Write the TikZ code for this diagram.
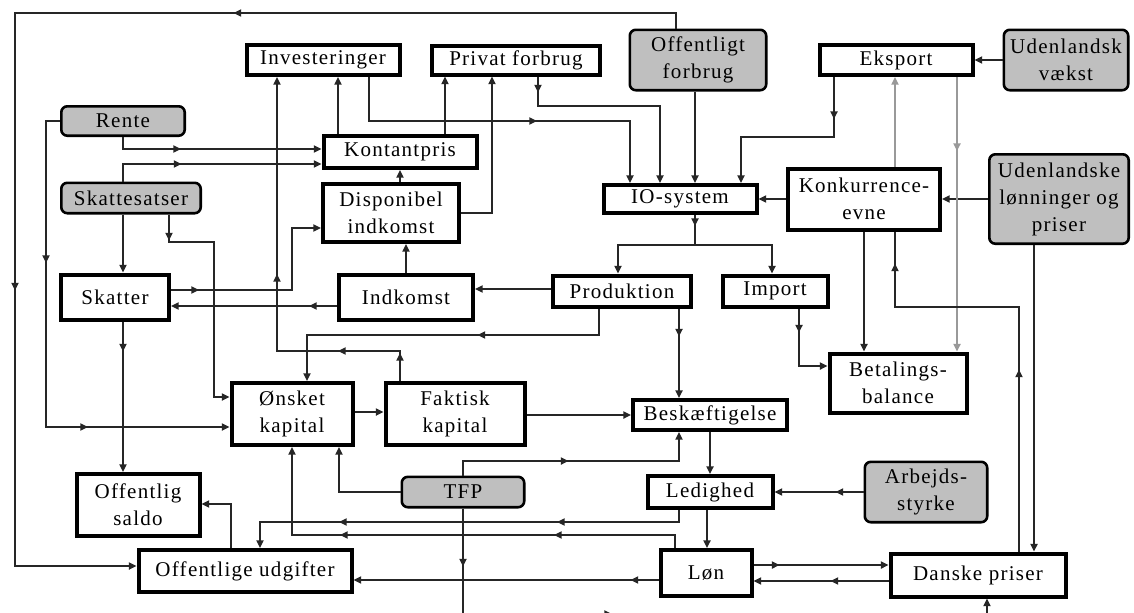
\documentclass[tikz,border=0pt]{standalone}
\usepackage{fontspec}
\setmainfont{Liberation Serif}[LetterSpace=6]
\usetikzlibrary{arrows.meta,          % 箭头
  decorations.markings,               % 线中间的箭头
  positioning}                        % 相对地放置节点

\begin{document}
\begin{tikzpicture}[x=0.5pt,y=-0.5pt,>={Triangle[length=3.8pt,width=3.6pt]},
  % 全局: 一个单位 = 原图一个像素, y 轴向下
  % 方框: 内生变量 (白底粗框) 和外生变量 (灰底圆角)
  box/.style={draw,line width=2pt,fill=white,inner sep=0pt,align=center,
    font=\fontsize{10.5}{13.5}\selectfont},
  exo/.style={box,line width=1.3pt,fill=black!25,rounded corners=3pt},
  wh/.style 2 args={minimum width=#1pt,minimum height=#2pt},
  % 连线
  link/.style={draw=black!85,line width=0.65pt,->},
  faint/.style={link,draw=black!40},
  mid/.style={postaction={decorate,decoration={markings,
      mark=at position #1 with {\arrow{>}}}}}]

  \path [use as bounding box,fill=white] (0,0) rectangle (1134,612);

  % 第一行
  \node [box,wh={76.5}{15}] (inv) at (323,60) {Investeringer};
  \node [box,wh={84}{14.5}] (priv) at (516,60) {Privat forbrug};
  \node [exo,wh={68.2}{30.2}] (offf) at (698,60) {Offentligt\\forbrug};
  \node [box,wh={76.5}{15}] (eks) at (896,60) {Eksport};
  \node [exo,wh={62.2}{30.2}] (vaekst) at (1066,60) {Udenlandsk\\vækst};

  \node [exo,wh={61.7}{14.7}] (rente) at (123,121) {Rente};
  \node [box,wh={76.5}{16}] (kont) at (400,152) {Kontantpris};
  \node [exo,wh={69.7}{15.2}] (satser) at (131,198) {Skattesatser};
  \node [box,wh={68}{29}] (disp) at (391,213) {Disponibel\\indkomst};
  \node [box,wh={76.5}{14}] (io) at (680,199) {IO-system};
  \node [box,wh={76}{30.5}] (konk) at (864,199) {Konkurrence-\\evne};
  \node [exo,wh={69.7}{44.7}] (udl) at (1059,199) {Udenlandske\\lønninger og\\priser};

  \node [box,wh={54}{22.5}] (skat) at (115,297) {Skatter};
  \node [box,wh={67}{22.5}] (indk) at (406,297) {Indkomst};
  \node [box,wh={69}{15.5}] (prod) at (622,291) {Produktion};
  \node [box,wh={52.5}{15.5}] (imp) at (775,291) {Import};
  \node [box,wh={68.5}{29.5}] (bet) at (898,383) {Betalings-\\balance};

  \node [box,wh={60.5}{31}] (onsk) at (292,414) {Ønsket\\kapital};
  \node [box,wh={69.5}{31}] (fakt) at (455,414) {Faktisk\\kapital};
  \node [box,wh={77}{15}] (besk) at (710,415) {Beskæftigelse};
  \node [exo,wh={61.2}{15.2}] (tfp) at (463,492) {TFP};
  \node [box,wh={62.5}{16}] (led) at (710,492) {Ledighed};
  \node [exo,wh={61.2}{30.2}] (arb) at (926,492) {Arbejds-\\styrke};
  \node [box,wh={61.5}{31}] (saldo) at (138,505) {Offentlig\\saldo};
  \node [box,wh={106.5}{21}] (udg) at (245,571) {Offentlige udgifter};
  \node [box,wh={45.5}{23}] (lon) at (706,573) {Løn};
  \node [box,wh={87.5}{21.5}] (dk) at (978,575) {Danske priser};

  % 图外的端点
  \coordinate (iofork) at (695,245);
  \coordinate (tfpout) at (463,625);
  \coordinate (dkin) at (987,625);
  \coordinate (botin) at (580,614);
  \coordinate (botout) at (612,614);

  % 左边的大回路
  \draw [link,mid=229pt,mid=477pt] (offf.north -| 676,0) -- (676,13) -- (15,13)
    -- (15,566) -- (udg.west |- 0,566);
  \draw [link,mid=78pt,mid=181pt] (rente.west) -- (46,121) -- (46,427)
    -- (onsk.west |- 0,427);
  \draw [link,mid=35pt] (rente.south) -- (123,149) -- (kont.west |- 0,149);
  \draw [link,mid=38pt] (satser.north -| 123,0) -- (123,164) -- (kont.west |- 0,164);
  \draw [link] (satser.south -| 123,0) -- (skat.north -| 123,0);
  \draw [link,mid=13pt] (satser.south -| 169,0) -- (169,242) -- (214,242)
    -- (214,397) -- (onsk.west |- 0,397);
  \draw [link,mid=14pt] (skat.east |- 0,290) -- (292,290) -- (292,228)
    -- (disp.west |- 0,228);
  \draw [link,mid=14pt] (indk.west |- 0,306) -- (skat.east |- 0,306);
  \draw [link] (indk.north) -- (indk.north |- disp.south);
  \draw [link] (disp.north -| 400,0) -- (kont.south -| 400,0);
  \draw [link] (kont.north -| 338,0) -- (inv.south -| 338,0);
  \draw [link] (kont.north -| 445,0) -- (priv.south -| 445,0);
  \draw [link] (disp.east) -- (492,213) -- (priv.south -| 492,0);

  % 需求 -> IO-system
  \draw [link,mid=106pt] (inv.south -| 369,0) -- (369,121) -- (630,121)
    -- (io.north -| 630,0);
  \draw [link,mid=8pt] (priv.south -| 538,0) -- (538,106) -- (660,106)
    -- (io.north -| 660,0);
  \draw [link] (offf.south -| 695,0) -- (io.north -| 695,0);
  \draw [link,mid=21pt] (eks.south -| 834,0) -- (834,137) -- (741,137)
    -- (io.north -| 741,0);
  \draw [link] (konk.west) -- (io.east);
  \draw [link] (udl.west) -- (konk.east);
  \draw [link] (vaekst.west) -- (eks.east);
  \draw [faint] (konk.north -| 895,0) -- (eks.south -| 895,0);
  \draw [faint,mid=37pt] (eks.south -| 957,0) -- (bet.north -| 957,0);
  \draw [link] (konk.south -| 864,0) -- (bet.north -| 864,0);
  \draw [link,-,mid=91pt,mid=206pt] (dk.north -| 1019,0) -- (1019,307) -- (895,307)
    -- (konk.south -| 895,0);
  \draw [link] (udl.south -| 1034,0) -- (dk.north -| 1034,0);
  \draw [link,mid=12pt] (imp.south -| 799,0) -- (799,366) -- (bet.west |- 0,366);
  \draw [link,mid=5.5pt] (io.south -| iofork) -- (iofork) -| (prod.north -| 618,0);
  \draw [link] (iofork) -| (imp.north -| 772,0);

  % 生产, 资本, 就业
  \draw [link] (prod.west |- 0,289) -- (indk.east |- 0,289);
  \draw [link,mid=74pt] (prod.south -| 599,0) -- (599,335) -- (307,335)
    -- (onsk.north -| 307,0);
  \draw [link,mid=14pt,mid=46pt,mid=115pt] (fakt.north -| 400,0) -- (400,351)
    -- (277,351) -- (inv.south -| 277,0);
  \draw [link] (onsk.east |- 0,412) -- (fakt.west |- 0,412);
  \draw [link] (fakt.east |- besk.west) -- (besk.west);
  \draw [link,mid=14pt] (prod.south -| 679,0) -- (besk.north -| 679,0);
  \draw [link] (tfp.west) -- (339,492) -- (onsk.south -| 339,0);
  \draw [link,mid=60pt] (tfp.north) -- (463,461) -- (679,461) -- (besk.south -| 679,0);
  \draw [link,-,mid=29pt] (tfp.south) -- (tfpout);
  \draw [link] (besk.south) -- (led.north);
  \draw [link,mid=14pt] (arb.west) -- (led.east);
  \draw [link] (led.south -| 707,0) -- (lon.north -| 707,0);
  \draw [link,mid=67pt,mid=176pt] (led.south -| 679,0) -- (679,522) -- (260,522)
    -- (udg.north -| 260,0);
  \draw [link,mid=67pt,mid=174pt] (lon.north -| 675,0) -- (675,535) -- (292,535)
    -- (onsk.south -| 292,0);
  \draw [link,mid=14pt] (lon.west |- 0,580) -- (udg.east |- 0,580);
  \draw [link,mid=13pt] (lon.east |- 0,565) -- (dk.west |- 0,565);
  \draw [link,mid=29pt] (dk.west |- 0,581) -- (lon.east |- 0,581);

  % 财政
  \draw [link] (udg.north -| 231,0) -- (231,504) -- (saldo.east |- 0,504);
  \draw [link,mid=15pt] (skat.south -| 123,0) -- (saldo.north -| 123,0);
  \draw [link] (dkin) -- (dk.south -| 987,0);
  \draw [link] (botin) -- (botout);

\end{tikzpicture}
\end{document}
